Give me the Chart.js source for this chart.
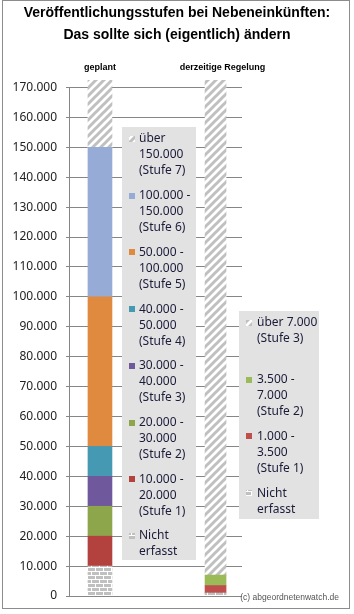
<!DOCTYPE html>
<html>
<head>
<meta charset="utf-8">
<script src="https://cdn.jsdelivr.net/npm/chart.js@4.4.1/dist/chart.umd.min.js"></script>
<style>
  html, body { margin: 0; padding: 0; background: #fff; }
  canvas { display: block; }
</style>
</head>
<body>
<canvas id="chart" width="354" height="614"></canvas>
<script>
// data
const categories = ['geplant', 'derzeitige Regelung'];
const titleLines = ['Veröffentlichungsstufen bei Nebeneinkünften:', 'Das sollte sich (eigentlich) ändern'];

const plannedLabels = [
    ['Nicht', 'erfasst'],
    ['10.000 -', '20.000', '(Stufe 1)'],
    ['20.000 -', '30.000', '(Stufe 2)'],
    ['30.000 -', '40.000', '(Stufe 3)'],
    ['40.000 -', '50.000', '(Stufe 4)'],
    ['50.000 -', '100.000', '(Stufe 5)'],
    ['100.000 -', '150.000', '(Stufe 6)'],
    ['über', '150.000', '(Stufe 7)']
];
const plannedValues = [10000, 10000, 10000, 10000, 10000, 50000, 50000, 22500];
const plannedColors = ['brick', '#b3423f', '#8da64b', '#6f589c', '#4699b3', '#df8a3f', '#96abd5', 'hatch'];

const currentLabels = [
    ['Nicht', 'erfasst'],
    ['1.000 -', '3.500', '(Stufe 1)'],
    ['3.500 -', '7.000', '(Stufe 2)'],
    ['über 7.000', '(Stufe 3)']
];
const currentValues = [1000, 2500, 3500, 165500];
const currentColors = ['brick', '#bf4f4c', '#9bbb59', 'hatch'];

const yTickLabels = ['0', '10.000', '20.000', '30.000', '40.000', '50.000', '60.000', '70.000', '80.000',
    '90.000', '100.000', '110.000', '120.000', '130.000', '140.000', '150.000', '160.000', '170.000'];

const canvas = document.getElementById('chart');
const ctx = canvas.getContext('2d');

// fill patterns
function makeHatch() {
    const c = document.createElement('canvas');
    c.width = 8; c.height = 8;
    const g = c.getContext('2d');
    g.fillStyle = '#fff';
    g.fillRect(0, 0, 8, 8);
    g.strokeStyle = '#c0c0c0';
    g.lineWidth = 3;
    g.beginPath();
    g.moveTo(-2, 2); g.lineTo(2, -2);
    g.moveTo(0, 8); g.lineTo(8, 0);
    g.moveTo(6, 10); g.lineTo(10, 6);
    g.stroke();
    return ctx.createPattern(c, 'repeat');
}
function makeBrick() {
    const c = document.createElement('canvas');
    c.width = 8; c.height = 8;
    const g = c.getContext('2d');
    g.fillStyle = '#fff';
    g.fillRect(0, 0, 8, 8);
    g.fillStyle = '#c0c0c0';
    g.fillRect(0, 0, 7, 3);
    g.fillRect(4, 4, 7, 3);
    g.fillRect(-4, 4, 7, 3);
    return ctx.createPattern(c, 'repeat');
}
const patterns = { hatch: makeHatch(), brick: makeBrick() };
const fill = (c) => patterns[c] || c;

const datasets = [];
plannedValues.forEach((v, i) => {
    datasets.push({
        data: [{ x: 1, y: v }],
        backgroundColor: fill(plannedColors[i]),
        legendLines: plannedLabels[i],
        barThickness: 24
    });
});
currentValues.forEach((v, i) => {
    datasets.push({
        data: [{ x: 2, y: v }],
        backgroundColor: fill(currentColors[i]),
        legendLines: currentLabels[i],
        barThickness: 21
    });
});

const legendBoxes = [
    { sets: [7, 6, 5, 4, 3, 2, 1, 0], x: 122, y: 127, w: 74, h: 433, sx: 7, tx: 17 },
    { sets: [11, 10, 9, 8], x: 239, y: 311, w: 80, h: 208, sx: 7, tx: 18 }
];

const decor = {
    id: 'decor',
    beforeDraw(chart) {
        const c = chart.ctx;
        c.save();
        c.strokeStyle = '#8c8c8c';
        c.lineWidth = 1;
        c.strokeRect(2.5, 0.5, 347, 608);
        // title
        c.fillStyle = '#000';
        c.font = 'bold 14px "Liberation Sans"';
        c.textAlign = 'center';
        c.textBaseline = 'middle';
        c.fillText(titleLines[0], 177, 13);
        c.fillText(titleLines[1], 177, 35);
        c.restore();
    },
    beforeDatasetsDraw(chart) {
        const c = chart.ctx;
        const y = chart.scales.y;
        const x = chart.chartArea.left + 0.5;
        c.save();
        c.strokeStyle = '#868686';
        c.lineWidth = 1;
        c.beginPath();
        c.moveTo(x, Math.round(y.getPixelForValue(170000)) + 0.5);
        c.lineTo(x, Math.round(y.getPixelForValue(0)) + 0.5);
        c.stroke();
        c.restore();
    },
    afterDatasetsDraw(chart) {
        const c = chart.ctx;
        const xs = chart.scales.x;
        c.save();
        // category labels above the bars
        c.fillStyle = '#000';
        c.font = 'bold 9px "Liberation Sans"';
        c.textAlign = 'center';
        c.textBaseline = 'middle';
        categories.forEach((cat, i) => {
            c.fillText(cat, xs.getPixelForValue(i + 1) + (i === 1 ? 7 : 0), 68);
        });

        // legends
        legendBoxes.forEach(b => {
            c.fillStyle = '#e2e2e2';
            c.fillRect(b.x, b.y, b.w, b.h);
            b.sets.forEach((di, k) => {
                const ds = chart.data.datasets[di];
                const top = b.y + 12 + k * 56.7;
                c.fillStyle = ds.backgroundColor;
                c.fillRect(b.x + b.sx, Math.round(top) - 3, 6, 6);
                c.fillStyle = '#1b1b3a';
                c.font = '12px "Noto Sans"';
                c.textAlign = 'left';
                c.textBaseline = 'middle';
                ds.legendLines.forEach((ln, j) => {
                    c.fillText(ln, b.x + b.tx, top + j * 16);
                });
            });
        });

        c.fillStyle = '#555';
        c.font = '8.5px "Liberation Sans"';
        c.textAlign = 'right';
        c.textBaseline = 'alphabetic';
        c.fillText('(c) abgeordnetenwatch.de', 339, 600);
        c.restore();
    }
};

new Chart(ctx, {
    type: 'bar',
    data: { datasets: datasets },
    options: {
        responsive: false,
        animation: false,
        devicePixelRatio: 1,
        layout: { padding: { left: 0, right: 112, top: 80, bottom: 18 } },
        plugins: {
            legend: { display: false },
            tooltip: { enabled: false },
            title: { display: false }
        },
        scales: {
            x: {
                type: 'linear', min: 0.732, max: 2.229, stacked: true, display: false,
                offset: false, grid: { offset: false }
            },
            y: {
                stacked: true,
                min: 0,
                max: 172500,
                border: { display: false },
                grid: { color: '#868686', tickLength: 3 },
                ticks: {
                    padding: 9,
                    color: '#222',
                    font: { family: 'Noto Sans', size: 12 },
                    callback: (v) => yTickLabels[v / 10000]
                },
                afterBuildTicks: (s) => { s.ticks = yTickLabels.map((_, i) => ({ value: i * 10000 })); },
                afterFit: (s) => { s.width = 69; }
            }
        }
    },
    plugins: [decor]
});
</script>
</body>
</html>
